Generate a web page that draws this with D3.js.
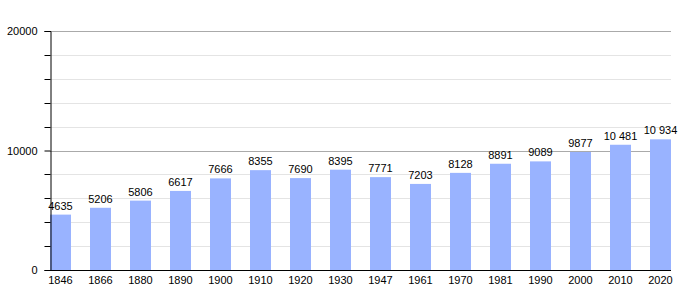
<!DOCTYPE html>
<html><head><meta charset="utf-8">
<script src="https://cdn.jsdelivr.net/npm/d3@7"></script>
<style>body{margin:0;background:#fff}svg{display:block;font-family:"Liberation Sans",Arial,sans-serif}</style>
</head><body><svg id="c" width="700" height="300"></svg>
<script>
const years = ["1846","1866","1880","1890","1900","1910","1920","1930","1947","1961","1970","1981","1990","2000","2010","2020"];
const population = [4635,5206,5806,6617,7666,8355,7690,8395,7771,7203,8128,8891,9089,9877,10481,10934];
const majorTicks = [0,10000,20000];
const minorTicks = [2000,4000,6000,8000,12000,14000,16000,18000];

const svg = d3.select("#c");
const mLeft = 50, mRight = 671, mTop = 31, mBottom = 270;
const y = d3.scaleLinear().domain([0,20000]).range([mBottom, mTop]);
const x = d3.scaleBand().domain(years).range([mLeft, mLeft + 40*years.length]).padding(0);
const bw = 21;
const fmt = v => v >= 10000 ? d3.format(",")(v).replace(/,/g, " ") : String(v);

// minor gridlines
svg.append("g").selectAll("line").data(minorTicks).join("line")
  .attr("x1", mLeft).attr("x2", mRight)
  .attr("y1", d => Math.round(y(d))+0.5).attr("y2", d => Math.round(y(d))+0.5)
  .attr("stroke", "#e4e4e4").attr("stroke-width", 1);
// major gridlines
svg.append("g").selectAll("line").data(majorTicks.filter(d => d > 0)).join("line")
  .attr("x1", mLeft).attr("x2", mRight)
  .attr("y1", d => Math.round(y(d))+0.5).attr("y2", d => Math.round(y(d))+0.5)
  .attr("stroke", "#aaaaaa").attr("stroke-width", 1);

// bars
svg.append("g").selectAll("rect").data(population).join("rect")
  .attr("x", (d,i) => x(years[i]))
  .attr("y", d => y(d))
  .attr("width", bw)
  .attr("height", d => mBottom - y(d))
  .attr("fill", "#99b3ff");

// value labels
svg.append("g").selectAll("text").data(population).join("text")
  .attr("x", (d,i) => x(years[i]) + bw/2)
  .attr("y", d => y(d) - 5)
  .attr("text-anchor", "middle")
  .attr("font-size", 11)
  .attr("fill", "#000")
  .text(d => fmt(d));

// y axis
const yAxis = d3.axisLeft(y).tickValues(majorTicks).tickSize(6).tickFormat(d => String(d));
const gy = svg.append("g").attr("transform", `translate(${mLeft+0.5},0)`).call(yAxis);
gy.select(".domain").attr("stroke", "#000");
gy.selectAll(".tick line").attr("stroke", "#000");
gy.selectAll(".tick text").attr("font-size", 11).attr("fill", "#000").attr("font-family", "Liberation Sans, Arial, sans-serif").attr("x", -13);
gy.append("g").selectAll("line").data(minorTicks).join("line")
  .attr("x1", -6).attr("x2", 0)
  .attr("y1", d => Math.round(y(d))+0.5).attr("y2", d => Math.round(y(d))+0.5)
  .attr("stroke", "#000");

// x axis
svg.append("line").attr("x1", mLeft).attr("x2", mRight)
  .attr("y1", mBottom+0.5).attr("y2", mBottom+0.5).attr("stroke", "#000");
svg.append("g").selectAll("text").data(years).join("text")
  .attr("x", d => x(d) + bw/2)
  .attr("y", 284)
  .attr("text-anchor", "middle")
  .attr("font-size", 11)
  .attr("fill", "#000")
  .text(d => d);
</script></body></html>
